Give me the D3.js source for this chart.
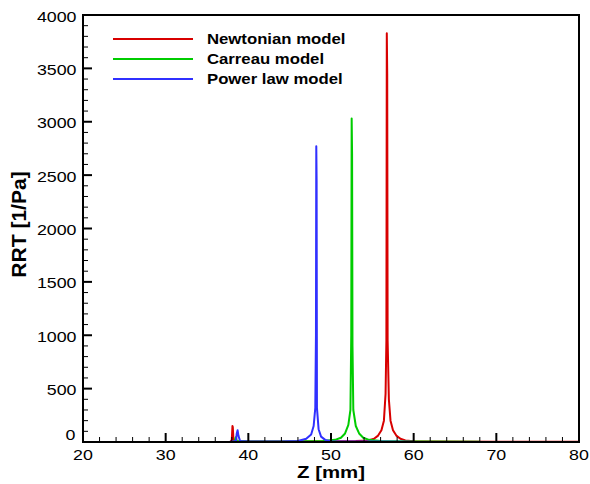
<!DOCTYPE html>
<html><head><meta charset="utf-8">
<script src="https://cdn.jsdelivr.net/npm/d3@7"></script>
<style>body{margin:0;background:#fff}svg{display:block}text{font-family:"Liberation Sans",Arial,sans-serif}</style>
</head><body>
<script>
// Data
const seriesNames = ["Newtonian model", "Carreau model", "Power law model"];
const seriesColors = ["#d80000", "#00cc00", "#3030ff"];
const zNewton = [37.8,38.0,38.08,38.12,38.2,38.4,40,45,50,53,54.5,55.2,55.7,56.1,56.4,56.6,56.7,56.75,56.8,56.85,57.0,57.2,57.5,57.9,58.4,59,60,62,70,80];
const rNewton = [0,20,150,140,20,5,5,5,8,10,15,30,60,110,200,450,950,3830,3450,950,400,200,110,60,30,15,8,5,3,2];
const zCarreau = [38.3,38.45,38.5,38.6,40,45,49,50.5,51.2,51.7,52.1,52.35,52.45,52.5,52.55,52.6,52.7,53.0,53.4,53.9,54.6,56,60,68];
const rCarreau = [0,40,45,10,5,5,10,20,40,80,160,300,1000,3030,2700,900,300,150,80,40,20,10,5,3];
const zPower = [37.7,38.5,38.6,38.7,38.8,39.0,40,44,46,47,47.6,47.9,48.1,48.18,48.22,48.26,48.3,48.5,48.8,49.3,50,55,60];
const rPower = [0,10,80,110,60,10,5,5,10,30,70,150,320,1000,2770,2450,320,120,50,20,8,5,3];
const xTicks = [20,30,40,50,60,70,80];
const yTicks = [0,500,1000,1500,2000,2500,3000,3500,4000];

const W = 590, H = 484;
const m = {l:83, r:579, t:15, b:442};
const svg = d3.select("body").append("svg").attr("width", W).attr("height", H);
const x = d3.scaleLinear().domain([20,80]).range([m.l, m.r]);
const y = d3.scaleLinear().domain([0,4000]).range([m.b, m.t]);

svg.append("defs").append("clipPath").attr("id","clip")
  .append("rect").attr("x", m.l).attr("y", m.t).attr("width", m.r-m.l).attr("height", m.b-m.t);

const data = [
  {z:zNewton, r:rNewton},
  {z:zCarreau, r:rCarreau},
  {z:zPower, r:rPower}
];
const line = d3.line().x(d=>x(d[0])).y(d=>y(d[1]));
const g = svg.append("g").attr("clip-path","url(#clip)");
data.forEach((s,i)=>{
  const pts = s.z.map((z,j)=>[z, s.r[j]]);
  g.append("path").attr("d", line(pts)).attr("fill","none")
    .attr("stroke", seriesColors[i]).attr("stroke-width", 2).attr("stroke-linejoin","round");
});

// Minor ticks
const xMinor = d3.range(20, 80.01, 2).filter(v => v % 10 !== 0);
const yMinor = d3.range(0, 4000.01, 100).filter(v => v % 500 !== 0);
const ax = svg.append("g");
xMinor.forEach(v=>ax.append("line").attr("x1",x(v)).attr("x2",x(v)).attr("y1",m.b).attr("y2",m.b-5).attr("stroke","#000").attr("stroke-width",1));
yMinor.forEach(v=>ax.append("line").attr("x1",m.l).attr("x2",m.l+5).attr("y1",y(v)).attr("y2",y(v)).attr("stroke","#000").attr("stroke-width",1));
xTicks.forEach(v=>ax.append("line").attr("x1",x(v)).attr("x2",x(v)).attr("y1",m.b).attr("y2",m.b-9).attr("stroke","#000").attr("stroke-width",2));
yTicks.forEach(v=>ax.append("line").attr("x1",m.l).attr("x2",m.l+9).attr("y1",y(v)).attr("y2",y(v)).attr("stroke","#000").attr("stroke-width",2));

// Frame
svg.append("rect").attr("x",m.l).attr("y",m.t).attr("width",m.r-m.l).attr("height",m.b-m.t)
  .attr("fill","none").attr("stroke","#000").attr("stroke-width",2);

function stext(px, py, sx, txt, size, anchor, bold, rot) {
  const t = svg.append("text")
    .attr("transform", `translate(${px},${py})` + (rot ? ` rotate(${rot})` : "") + ` scale(${sx},1)`)
    .attr("text-anchor", anchor).attr("font-size", size).text(txt);
  if (bold) t.attr("font-weight", "bold");
  return t;
}

// Tick labels
xTicks.forEach(v=>stext(x(v), 460, 1.15, v, 15.5, "middle", false));
yTicks.forEach(v=>stext(v===0 ? 75.5 : 76.5, v===0 ? y(v)-2 : y(v)+6.5, 1.15, v, 15.5, "end", false));

// Axis titles
stext((m.l+m.r)/2, 478, 1.2, "Z [mm]", 17, "middle", true);
stext(26, 224.5, 1.08, "RRT [1/Pa]", 19.5, "middle", true, -90);

// Legend
const legY = [39, 59, 79];
seriesNames.forEach((n,i)=>{
  svg.append("line").attr("x1",113).attr("x2",193).attr("y1",legY[i]).attr("y2",legY[i])
    .attr("stroke",seriesColors[i]).attr("stroke-width",2);
  stext(207, legY[i]+4.5, 1.17, n, 14.3, "start", true);
});
</script>
</body></html>
